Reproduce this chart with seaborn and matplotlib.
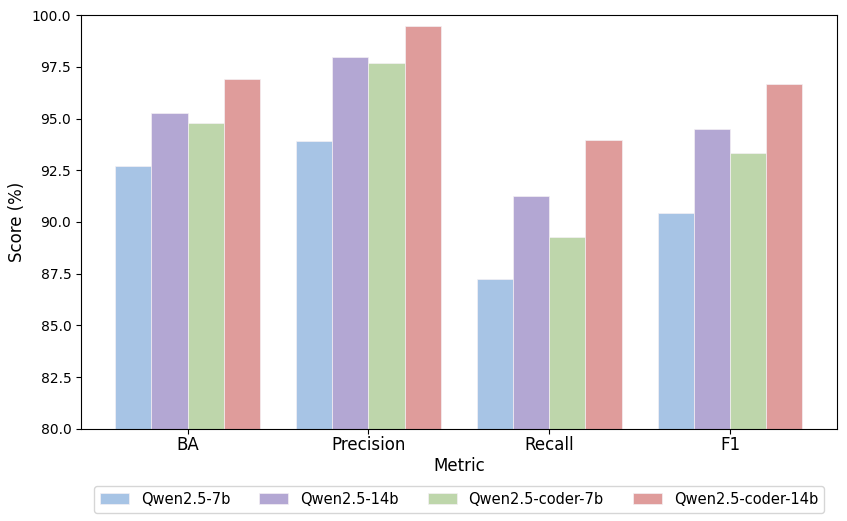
import pandas as pd
import matplotlib
matplotlib.use("Agg")
import matplotlib.pyplot as plt
import seaborn as sns

metrics = ["BA", "Precision", "Recall", "F1"]
models = ["Qwen2.5-7b", "Qwen2.5-14b", "Qwen2.5-coder-7b", "Qwen2.5-coder-14b"]
qwen_7b = [92.7, 93.9, 87.25, 90.43]
qwen_14b = [95.27, 97.97, 91.26, 94.49]
coder_7b = [94.78, 97.7, 89.28, 93.32]
coder_14b = [96.9, 99.47, 93.96, 96.65]
colors = ["#a7c4e5", "#b3a7d3", "#bed6ab", "#df9c9b"]

rows = []
for model, vals in zip(models, [qwen_7b, qwen_14b, coder_7b, coder_14b]):
    for m, v in zip(metrics, vals):
        rows.append({"Metric": m, "Model": model, "Score": v})
df = pd.DataFrame(rows)

sns.set_style("ticks")
plt.rcParams["font.family"] = ["DejaVu Sans"]
# plain black text and ticks like the matplotlib defaults
for key in ["text.color", "axes.labelcolor", "xtick.color", "ytick.color"]:
    plt.rcParams[key] = "black"

fig, ax = plt.subplots(figsize=(8.47, 5.21), dpi=100)
sns.barplot(data=df, x="Metric", y="Score", hue="Model", order=metrics,
            hue_order=models, palette=colors, saturation=1,
            edgecolor="#f4f0f4", linewidth=0.5, ax=ax)

ax.set_ylim(80, 100)
ax.set_xlim(-0.59, 3.59)
ax.set_xlabel("Metric", fontsize=12, labelpad=2)
ax.set_ylabel("Score (%)", fontsize=12)
ax.tick_params(axis="x", labelsize=12, pad=2)
ax.tick_params(axis="y", labelsize=10)
for s in ax.spines.values():
    s.set_visible(True)
    s.set_color("black")

ax.legend(loc="upper center", bbox_to_anchor=(0.5, -0.138), ncol=4,
          fontsize=10.5, frameon=True, borderaxespad=0)

fig.subplots_adjust(left=0.0956, right=0.988, top=0.971, bottom=0.177)
fig.savefig("out.png", dpi=100)
